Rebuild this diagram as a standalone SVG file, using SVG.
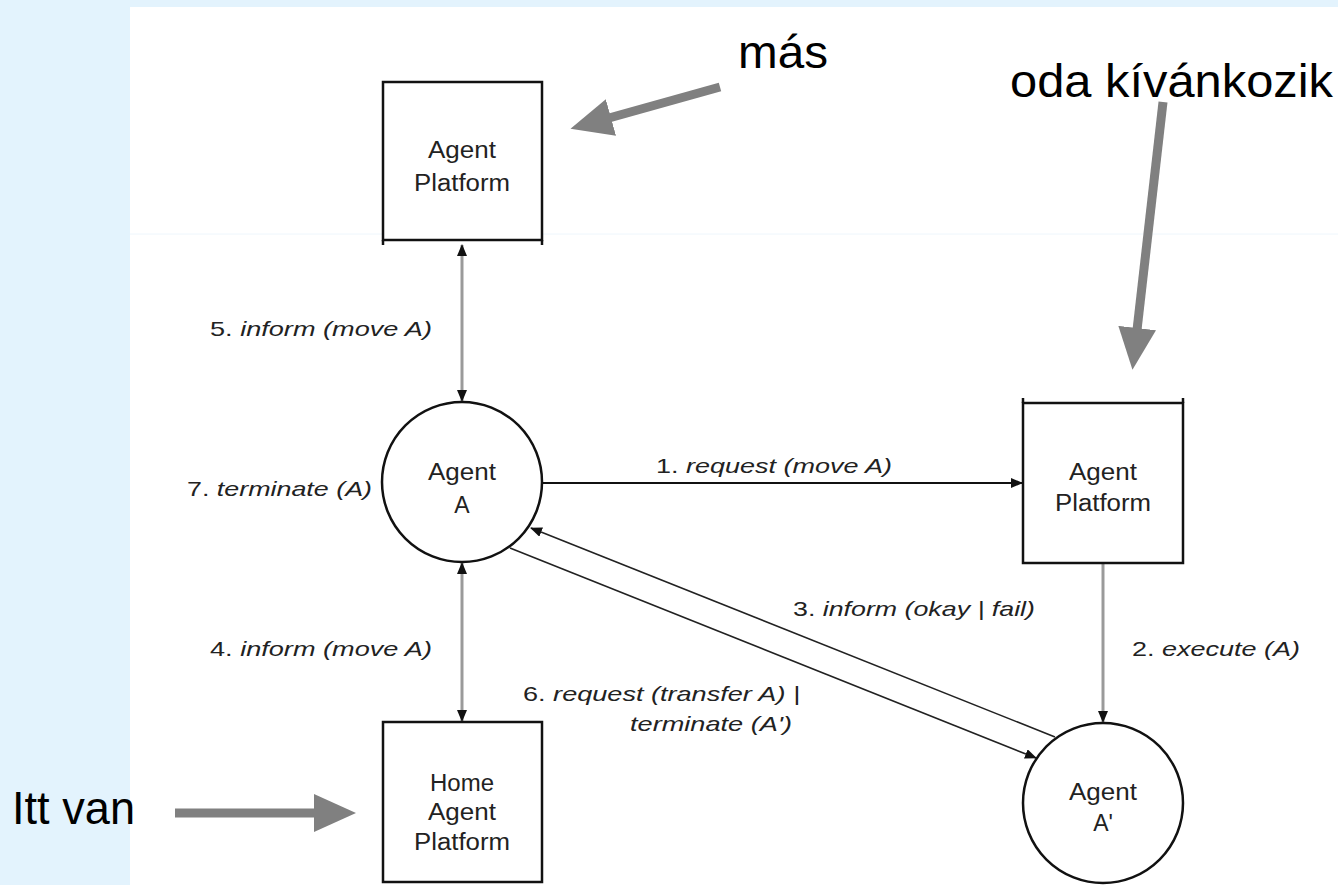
<svg xmlns="http://www.w3.org/2000/svg" width="1338" height="885" viewBox="0 0 1338 885">
  <style>
    .node { fill: #ffffff; stroke: #111111; stroke-width: 2.5; }
    .ntext { font-family: "Liberation Sans", Arial, sans-serif; font-size: 23px; fill: #222222; text-anchor: middle; }
    .label { font-family: "Liberation Sans", Arial, sans-serif; font-size: 21px; fill: #222222; }
    .label tspan.it { font-style: italic; }
    .msg { stroke: #111111; stroke-width: 2; fill: none; }
    .msg-thin { stroke: #222222; stroke-width: 1.6; fill: none; }
    .flow { stroke: #9a9a9a; stroke-width: 3; fill: none; }
    .note { font-family: "Liberation Sans", Arial, sans-serif; font-size: 46px; fill: #000000; }
    .pointer { stroke: #808080; stroke-width: 9; fill: none; }
  </style>
  <defs>
    <marker id="head" markerUnits="userSpaceOnUse" markerWidth="12" markerHeight="10" refX="11" refY="5" orient="auto">
      <path d="M0,0 L12,5 L0,10 z" fill="#111111"/>
    </marker>
    <marker id="tail" markerUnits="userSpaceOnUse" markerWidth="12" markerHeight="10" refX="1" refY="5" orient="auto">
      <path d="M12,0 L0,5 L12,10 z" fill="#111111"/>
    </marker>
    <marker id="fat" markerUnits="userSpaceOnUse" markerWidth="42" markerHeight="38" refX="2" refY="19" orient="auto">
      <path d="M0,0 L42,19 L0,38 z" fill="#808080"/>
    </marker>
  </defs>

  <!-- page background and white sheet -->
  <rect x="0" y="0" width="1338" height="885" fill="#e3f3fd"/>
  <rect x="130" y="7" width="1208" height="878" fill="#ffffff"/>
  <line x1="130" y1="234" x2="1338" y2="234" stroke="#eef6fc" stroke-width="1"/>

  <!-- connectors -->
  <g id="connectors">
    <line class="flow" x1="462" y1="245" x2="462" y2="401" marker-start="url(#tail)" marker-end="url(#head)"/>
    <line class="flow" x1="462" y1="563" x2="462" y2="721" marker-start="url(#tail)" marker-end="url(#head)"/>
    <line class="flow" x1="1103" y1="564" x2="1103" y2="722" marker-end="url(#head)"/>
    <line class="msg" x1="543" y1="483" x2="1022" y2="483" marker-end="url(#head)"/>
    <line class="msg-thin" x1="1055" y1="737" x2="531" y2="528" marker-end="url(#head)"/>
    <line class="msg-thin" x1="510" y1="548" x2="1036" y2="758" marker-end="url(#head)"/>

    <text class="label" x="210" y="336" textLength="222" lengthAdjust="spacingAndGlyphs">5. <tspan class="it">inform (move A)</tspan></text>
    <text class="label" x="187" y="496" textLength="185" lengthAdjust="spacingAndGlyphs">7. <tspan class="it">terminate (A)</tspan></text>
    <text class="label" x="210" y="656" textLength="222" lengthAdjust="spacingAndGlyphs">4. <tspan class="it">inform (move A)</tspan></text>
    <text class="label" x="656" y="473" textLength="236" lengthAdjust="spacingAndGlyphs">1. <tspan class="it">request (move A)</tspan></text>
    <text class="label" x="793" y="616" textLength="242" lengthAdjust="spacingAndGlyphs">3. <tspan class="it">inform (okay | fail)</tspan></text>
    <text class="label" x="1132" y="656" textLength="168" lengthAdjust="spacingAndGlyphs">2. <tspan class="it">execute (A)</tspan></text>
    <text class="label" x="523" y="701" textLength="277" lengthAdjust="spacingAndGlyphs">6. <tspan class="it">request (transfer A) |</tspan></text>
    <text class="label" x="630" y="731" textLength="162" lengthAdjust="spacingAndGlyphs"><tspan class="it">terminate (A')</tspan></text>
  </g>

  <!-- remote agent platform (top) -->
  <g id="platform-top">
    <rect class="node" x="383" y="82" width="159" height="158"/>
    <line x1="383" y1="240" x2="383" y2="245" stroke="#111111" stroke-width="2.5"/>
    <line x1="542" y1="240" x2="542" y2="245" stroke="#111111" stroke-width="2.5"/>
    <text class="ntext" x="462" y="158" textLength="68" lengthAdjust="spacingAndGlyphs">Agent</text>
    <text class="ntext" x="462" y="191" textLength="96" lengthAdjust="spacingAndGlyphs">Platform</text>
  </g>

  <!-- destination agent platform (right) -->
  <g id="platform-right">
    <rect class="node" x="1023" y="403" width="160" height="160"/>
    <line x1="1023" y1="398" x2="1023" y2="403" stroke="#111111" stroke-width="2.5"/>
    <line x1="1183" y1="398" x2="1183" y2="403" stroke="#111111" stroke-width="2.5"/>
    <text class="ntext" x="1103" y="480" textLength="68" lengthAdjust="spacingAndGlyphs">Agent</text>
    <text class="ntext" x="1103" y="511" textLength="96" lengthAdjust="spacingAndGlyphs">Platform</text>
  </g>

  <!-- home agent platform -->
  <g id="platform-home">
    <rect class="node" x="383" y="722" width="159" height="160"/>
    <text class="ntext" x="462" y="791" textLength="64" lengthAdjust="spacingAndGlyphs">Home</text>
    <text class="ntext" x="462" y="820" textLength="68" lengthAdjust="spacingAndGlyphs">Agent</text>
    <text class="ntext" x="462" y="850" textLength="96" lengthAdjust="spacingAndGlyphs">Platform</text>
  </g>

  <!-- agent A -->
  <g id="agent-a">
    <circle class="node" cx="462" cy="482" r="80" stroke-width="2"/>
    <text class="ntext" x="462" y="480" textLength="68" lengthAdjust="spacingAndGlyphs">Agent</text>
    <text class="ntext" x="462" y="513">A</text>
  </g>

  <!-- agent A' -->
  <g id="agent-a-prime">
    <circle class="node" cx="1103" cy="803" r="80" stroke-width="2"/>
    <text class="ntext" x="1103" y="800" textLength="68" lengthAdjust="spacingAndGlyphs">Agent</text>
    <text class="ntext" x="1103" y="831">A'</text>
  </g>

  <!-- annotations -->
  <g id="note-mas">
    <text class="note" x="738" y="68" textLength="90" lengthAdjust="spacingAndGlyphs">más</text>
    <line class="pointer" x1="720" y1="87" x2="609" y2="118" marker-end="url(#fat)"/>
  </g>
  <g id="note-oda">
    <text class="note" x="1010" y="97" textLength="323" lengthAdjust="spacingAndGlyphs">oda kívánkozik</text>
    <line class="pointer" x1="1163" y1="102" x2="1137" y2="330" marker-end="url(#fat)"/>
  </g>
  <g id="note-itt">
    <text class="note" x="12" y="824" textLength="123" lengthAdjust="spacingAndGlyphs">Itt van</text>
    <line class="pointer" x1="175" y1="813" x2="316" y2="813" marker-end="url(#fat)"/>
  </g>
</svg>
